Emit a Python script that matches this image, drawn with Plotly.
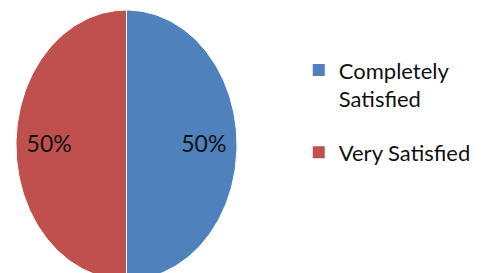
import numpy as np
import plotly.graph_objects as go

# Data
categories = ["Completely<br>Satisfied", "Very Satisfied"]
values = [50, 50]
colors = ["#4F81BD", "#C0504D"]

fig = go.Figure()

total = sum(values)
fractions = [v / total for v in values]
start = 0.0
label_r = 0.70
for cat, frac, col in zip(categories, fractions, colors):
    end = start + frac
    theta = np.linspace(start, end, 120) * 2 * np.pi  # clockwise from 12 o'clock
    xs = np.concatenate([[0], np.sin(theta), [0]])
    ys = np.concatenate([[0], np.cos(theta), [0]])
    fig.add_trace(go.Scatter(
        x=xs, y=ys, mode="lines", fill="toself", fillcolor=col,
        line=dict(color="white", width=1), showlegend=False,
        hoverinfo="skip", name=cat.replace("<br>", " ")))
    mid = (start + end) / 2 * 2 * np.pi
    fig.add_trace(go.Scatter(
        x=[label_r * np.sin(mid)], y=[label_r * np.cos(mid) - 0.01], mode="text",
        text=[f"{round(frac * 100)}%"], textposition="middle center",
        textfont=dict(size=23, color="#111111", family="Lato, Roboto, sans-serif"),
        showlegend=False, hoverinfo="skip"))
    start = end

# Legend entries
for i, (cat, col) in enumerate(zip(categories, colors)):
    fig.add_trace(go.Scatter(
        x=[None], y=[None], mode="markers", name=cat,
        marker=dict(symbol="square", size=12, color=col),
        legendgroup=f"g{i}"))

fig.update_layout(
    width=493, height=273,
    margin=dict(l=0, r=0, t=0, b=0),
    paper_bgcolor="white", plot_bgcolor="white",
    xaxis=dict(range=[-1.1448, 3.3167], visible=False, fixedrange=True),
    yaxis=dict(range=[-0.948, 1.074], visible=False, fixedrange=True),
    showlegend=True,
    legend=dict(
        x=0.606, y=0.82, xanchor="left", yanchor="top",
        font=dict(size=22, color="#111111", family="Lato, Roboto, sans-serif"),
        valign="top", traceorder="grouped", tracegroupgap=22,
        bgcolor="rgba(0,0,0,0)", itemclick=False, itemdoubleclick=False),
)

fig.write_html("out.html", config={"displayModeBar": False},
               post_script="document.body.style.margin='0';")
